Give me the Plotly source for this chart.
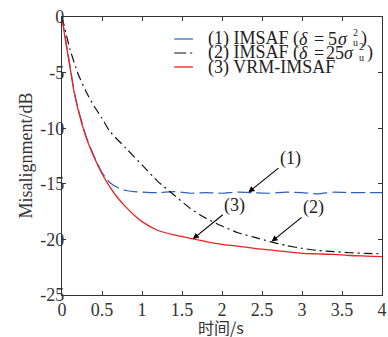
import plotly.graph_objects as go

# ---- data ----
t_red = [0, 0.03, 0.1, 0.15, 0.2, 0.3, 0.4, 0.5, 0.6, 0.7, 0.8, 0.9, 1.0, 1.2, 1.4, 1.6,
         1.8, 2.0, 2.2, 2.4, 2.6, 2.8, 3.0, 3.2, 3.4, 3.6, 3.8, 4.0]
y_red = [0, -1.5, -4.5, -6.7, -8.3, -10.8, -12.6, -14.1, -15.3, -16.3, -17.1, -17.8, -18.4,
         -19.2, -19.6, -19.9, -20.2, -20.45, -20.6, -20.8, -20.95, -21.1, -21.25, -21.3,
         -21.35, -21.45, -21.5, -21.55]

t_blue = [0, 0.03, 0.1, 0.15, 0.2, 0.3, 0.4, 0.5, 0.55, 0.6, 0.7, 0.8, 0.9, 1.0, 1.2, 1.4,
          1.6, 1.8, 2.0, 2.2, 2.4, 2.6, 2.8, 3.0, 3.2, 3.4, 3.6, 3.8, 4.0]
y_blue = [0, -1.4, -4.4, -6.6, -8.2, -10.7, -12.5, -14.0, -14.5, -14.9, -15.35, -15.6, -15.7,
          -15.75, -15.8, -15.7, -15.85, -15.8, -15.85, -15.75, -15.8, -15.85, -15.75, -15.8,
          -15.9, -15.75, -15.8, -15.8, -15.8]

t_black = [0, 0.1, 0.2, 0.3, 0.4, 0.5, 0.6, 0.8, 1.0, 1.2, 1.4, 1.6, 1.8, 2.0, 2.2, 2.4,
           2.6, 2.8, 3.0, 3.2, 3.4, 3.6, 3.8, 4.0]
y_black = [0, -2.9, -5.1, -6.7, -8.0, -9.1, -10.3, -11.8, -13.3, -14.8, -16.0, -17.2, -18.1,
           -18.8, -19.4, -19.8, -20.2, -20.55, -20.8, -21.0, -21.1, -21.2, -21.25, -21.3]

legend_prefix = ["(1) IMSAF (", "(2) IMSAF (", "(3) VRM-IMSAF"]
legend_coef = ["5", "25", None]
x_ticks = [0, 0.5, 1, 1.5, 2, 2.5, 3, 3.5, 4]
x_tick_text = ["0", "0.5", "1", "1.5", "2", "2.5", "3", "3.5", "4"]
y_ticks = [0, -5, -10, -15, -20, -25]
y_tick_text = ["0", "-5", "-10", "-15", "-20", "-25"]
x_title = "时间/s"
y_title = "Misalignment/dB"

callouts = [("(1)", 2.33, -15.77), ("(3)", 1.635, -19.97), ("(2)", 2.62, -20.2)]

SERIF = "Liberation Serif, Times New Roman, serif"
TXT = "#222222"
BLUE = "#2f5fb8"
BLACK = "#111111"
RED = "#f02020"
styles = [
    dict(color=BLUE, width=1.2, dash="14px,5px"),
    dict(color=BLACK, width=1.2, dash="9px,4px,2px,4px"),
    dict(color=RED, width=1.3, dash="solid"),
]
legend_dash = ["solid", "12px,4px,2px,20px", "solid"]

# layout geometry (pixels)
W, H = 388, 337
ML, MR, MT, MB = 62, 1, 17, 42
PW, PH = W - ML - MR, H - MT - MB


def px(x):
    return (x - ML) / PW


def py(y):
    return (H - MB - y) / PH


fig = go.Figure()
fig.add_trace(go.Scatter(x=t_blue, y=y_blue, mode="lines",
                         line=dict(styles[0], shape="spline", smoothing=0.6), showlegend=False))
fig.add_trace(go.Scatter(x=t_black, y=y_black, mode="lines",
                         line=dict(styles[1], shape="spline", smoothing=0.6), showlegend=False))
fig.add_trace(go.Scatter(x=t_red, y=y_red, mode="lines",
                         line=dict(styles[2], shape="spline", smoothing=0.6), showlegend=False))


def txt(x, y, s, size=18, anchor="left", italic=False):
    fig.add_annotation(xref="paper", yref="paper", x=px(x), y=py(y), text=s, showarrow=False,
                       xanchor=anchor, yanchor="middle",
                       font=dict(family=SERIF, size=size, color=TXT,
                                 style="italic" if italic else "normal"))


# manual legend
rows = [39, 53, 67]
for i, (pre, coef, st, ry) in enumerate(zip(legend_prefix, legend_coef, styles, rows)):
    fig.add_shape(type="line", xref="paper", yref="paper", x0=px(176), x1=px(195),
                  y0=py(ry), y1=py(ry),
                  line=dict(color=st["color"], width=st["width"], dash=legend_dash[i]))
    txt(208, ry, pre)
    if coef is not None:
        shift = 0 if len(coef) == 1 else 6
        txt(307.5, ry, "δ", anchor="center", italic=True)
        txt(323, ry, "=", anchor="center")
        txt(336.5 + shift / 2, ry, coef, anchor="center")
        txt(347.5 + shift, ry, "σ", anchor="center", italic=True)
        txt(360.5 + shift, ry - 7, "2", size=10, anchor="center")
        txt(360.5 + shift, ry + 4, "u", size=10, anchor="center")
        txt(368.5 + shift, ry, ")", anchor="center")

for s, tx, ty in callouts:
    fig.add_annotation(x=tx, y=ty, text=s, showarrow=True, ax=42, ay=-34,
                       arrowhead=2, arrowsize=1.1, arrowwidth=1.1, arrowcolor="#000000",
                       font=dict(family=SERIF, size=18, color=TXT), standoff=0)

# axis titles
fig.add_annotation(xref="paper", yref="paper", x=px(25), y=0.5, text=y_title, textangle=-90,
                   showarrow=False, xanchor="center", yanchor="middle",
                   font=dict(family=SERIF, size=18, color="#333333"))
fig.add_annotation(xref="paper", yref="paper", x=px(223), y=py(327), text=x_title,
                   showarrow=False, xanchor="center", yanchor="middle",
                   font=dict(family="Noto Sans CJK SC", size=16, color="#333333"))

axis_common = dict(showline=True, linecolor="#333333", linewidth=1.2, mirror="ticks",
                   ticks="inside", ticklen=4, tickcolor="#333333", showgrid=False, zeroline=False,
                   ticklabeloverflow="allow",
                   tickfont=dict(family=SERIF, size=18, color="#333333"))
fig.update_xaxes(range=[0, 4], tickvals=x_ticks, ticktext=x_tick_text,
                 ticklabelstandoff=-2, **axis_common)
fig.update_yaxes(range=[-25, 0], tickvals=y_ticks, ticktext=y_tick_text,
                 ticklabelstandoff=-7, **axis_common)

fig.update_layout(width=W, height=H, margin=dict(l=ML, r=MR, t=MT, b=MB),
                  plot_bgcolor="white", paper_bgcolor="white", showlegend=False)
fig.write_html("out.html")
